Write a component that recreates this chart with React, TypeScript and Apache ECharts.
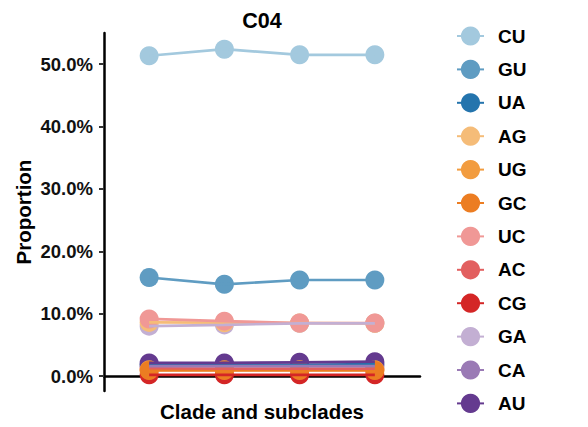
import React, { useEffect, useRef } from "react";
import * as echarts from "echarts";

// Four positions along the x axis (clade and subclades, unlabelled)
const positions = [1, 2, 3, 4];

// Substitution types, in legend order
const types = ["CU", "GU", "UA", "AG", "UG", "GC", "UC", "AC", "CG", "GA", "CA", "AU"];

const colors = [
  "#a3c9de", "#5f9cc2", "#2474ad",
  "#f5bc78", "#f29c3f", "#ec7d22",
  "#f09896", "#e25f5f", "#d42626",
  "#c3afd3", "#9a7ab5", "#643a8f",
];

// Proportion (%) per type at each position
const CU = [51.35, 52.4, 51.5, 51.5];
const GU = [15.8, 14.7, 15.4, 15.4];
const UA = [1.8, 1.8, 1.8, 1.9];
const AG = [8.6, 8.55, 8.5, 8.45];
const UG = [1.0, 1.0, 1.0, 1.0];
const GC = [0.9, 0.9, 0.9, 0.9];
const UC = [9.15, 8.8, 8.5, 8.5];
const AC = [1.25, 1.2, 1.2, 1.2];
const CG = [0.2, 0.2, 0.2, 0.2];
const GA = [8.0, 8.2, 8.45, 8.45];
const CA = [1.6, 1.6, 1.6, 1.6];
const AU = [2.1, 2.1, 2.2, 2.3];

const values = [CU, GU, UA, AG, UG, GC, UC, AC, CG, GA, CA, AU];

// Stacking order of the points (last on top)
const pointOrder = ["CU", "GU", "GA", "AG", "UC", "CG", "AC", "UA", "CA", "AU", "UG", "GC"];

const yTicks = [0, 10, 20, 30, 40, 50];

const FONT = "'Liberation Sans', Arial, Helvetica, sans-serif";

export default function App() {
  const ref = useRef<HTMLDivElement>(null);

  useEffect(() => {
    if (!ref.current) return;
    const chart = echarts.init(ref.current, null, { renderer: "svg" });

    const pairs = (arr: number[]) => positions.map((p, i) => [p, arr[i]]);

    // Lines drawn above the points
    const lineSeries = types.map((name, k) => ({
      name,
      type: "line",
      data: pairs(values[k]),
      symbol: "circle",
      showSymbol: false,
      z: 3,
      color: colors[k],
      lineStyle: { color: colors[k], width: 2.7 },
      itemStyle: { color: colors[k] },
      emphasis: { disabled: true },
    }));

    const pointSeries = pointOrder.map((name) => {
      const k = types.indexOf(name);
      return {
        name,
        type: "scatter",
        data: pairs(values[k]),
        symbol: "circle",
        symbolSize: 19,
        z: 2,
        itemStyle: { color: colors[k], opacity: 1 },
        emphasis: { disabled: true },
      };
    });

    chart.setOption({
      animation: false,
      backgroundColor: "#ffffff",
      textStyle: { fontFamily: FONT },
      grid: { left: 104, right: 168, top: 33, bottom: 34, containLabel: false },
      graphic: [
        {
          type: "text",
          x: 262,
          y: 21,
          style: {
            text: "C04",
            align: "center",
            verticalAlign: "middle",
            font: `bold 21.5px ${FONT}`,
            fill: "#000",
          },
        },
      ],
      legend: {
        orient: "vertical",
        left: 456,
        top: 24,
        padding: 0,
        itemWidth: 27,
        itemHeight: 24,
        itemGap: 9.4,
        selectedMode: false,
        data: types,
        textStyle: {
          fontFamily: FONT,
          fontSize: 19,
          fontWeight: "bold",
          color: "#000",
          lineHeight: 24,
          height: 24,
          padding: [0, 0, 0, 9],
        },
      },
      xAxis: {
        type: "value",
        min: 0.4,
        max: 4.6,
        name: "Clade and subclades",
        nameLocation: "middle",
        nameGap: 10,
        nameMoveOverlap: false,
        nameTextStyle: {
          fontFamily: FONT,
          fontSize: 20.5,
          fontWeight: "bold",
          color: "#000",
          verticalAlign: "top",
        },
        axisLine: { show: true, lineStyle: { color: "#000", width: 2.5 } },
        axisTick: { show: false },
        axisLabel: { show: false },
        splitLine: { show: false },
      },
      yAxis: {
        type: "value",
        min: -2.4,
        max: 55,
        name: "Proportion",
        nameLocation: "middle",
        nameRotate: 90,
        nameGap: 70,
        nameMoveOverlap: false,
        nameTextStyle: {
          fontFamily: FONT,
          fontSize: 20.5,
          fontWeight: "bold",
          color: "#000",
        },
        axisLine: { show: true, lineStyle: { color: "#000", width: 2.5 } },
        axisTick: {
          show: true,
          length: 5,
          customValues: yTicks,
          lineStyle: { color: "#333", width: 2 },
        },
        axisLabel: {
          show: true,
          customValues: yTicks,
          margin: 11,
          fontFamily: FONT,
          fontSize: 18.5,
          fontWeight: "bold",
          color: "#111",
          formatter: (v: number) => `${v.toFixed(1)}%`,
        },
        splitLine: { show: false },
      },
      series: [...lineSeries, ...pointSeries],
    });

    return () => chart.dispose();
  }, []);

  return <div ref={ref} style={{ width: 588, height: 427, margin: -8 }} />;
}
